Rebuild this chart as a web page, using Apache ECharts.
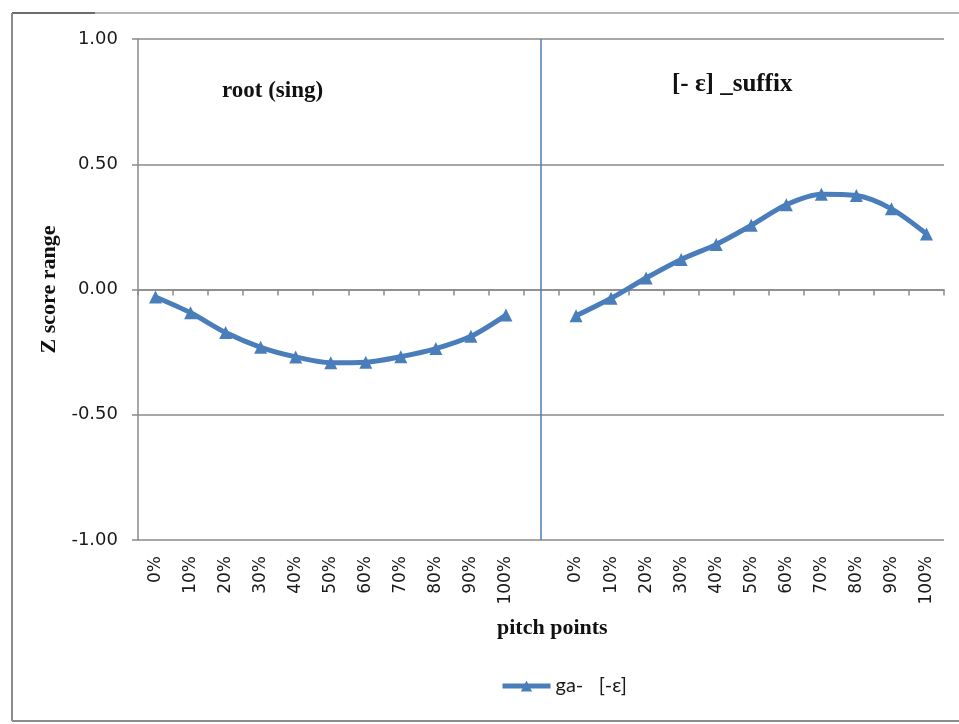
<!DOCTYPE html>
<html>
<head>
<meta charset="utf-8">
<script src="https://cdn.jsdelivr.net/npm/echarts@6/dist/echarts.min.js"></script>
<style>
  html, body { margin: 0; padding: 0; background: #ffffff; }
  #chart { width: 959px; height: 724px; }
</style>
</head>
<body>
<div id="chart"></div>
<script>
// Pitch-point categories: root (sing) 0..100%, a spacer, then the suffix 0..100%
const rootPoints = ['0%', '10%', '20%', '30%', '40%', '50%', '60%', '70%', '80%', '90%', '100%'];
const suffixPoints = ['0%', '10%', '20%', '30%', '40%', '50%', '60%', '70%', '80%', '90%', '100%'];

// Z-score contour for "ga- [-ɛ]"
const rootValues = [-0.03, -0.093, -0.172, -0.231, -0.269, -0.292, -0.290, -0.268, -0.236, -0.187, -0.102];
const suffixValues = [-0.105, -0.035, 0.046, 0.120, 0.180, 0.256, 0.338, 0.380, 0.375, 0.322, 0.222];

const yTicks = { min: -1, max: 1, interval: 0.5 };
const seriesName = 'ga-   [-ɛ]';
const rootLabel = 'root (sing)';
const suffixLabel = '[- ɛ] _suffix';

// Full category list with an empty slot separating the two segments
const categories = rootPoints.concat([''], suffixPoints);
const values = rootValues.concat([null], suffixValues);
const splitIndex = rootPoints.length;

const blue = '#4a7ebb';
const grey = '#8a8a8a';

const chart = echarts.init(document.getElementById('chart'), null, { renderer: 'canvas' });

chart.setOption({
  backgroundColor: '#ffffff',
  animation: false,
  grid: { left: 138, right: 15, top: 39, bottom: 184, containLabel: false },
  xAxis: [
    {
      type: 'category',
      data: categories,
      position: 'bottom',
      boundaryGap: true,
      axisLine: { show: false, onZero: false },
      axisTick: { show: false },
      axisLabel: {
        rotate: 90,
        margin: 16,
        interval: 0,
        fontFamily: 'DejaVu Sans',
        fontSize: 17,
        color: '#1a1a1a'
      },
      splitLine: { show: false }
    },
    {
      // zero line with its tick marks
      type: 'category',
      data: categories,
      position: 'bottom',
      boundaryGap: true,
      axisLine: { show: true, onZero: true, lineStyle: { color: grey, width: 1.5 } },
      axisTick: { show: true, inside: false, length: 6, interval: 0, lineStyle: { color: grey, width: 1.5 } },
      axisLabel: { show: false },
      splitLine: { show: false }
    }
  ],
  yAxis: {
    type: 'value',
    min: yTicks.min,
    max: yTicks.max,
    interval: yTicks.interval,
    name: 'Z score range',
    nameLocation: 'middle',
    nameRotate: 90,
    nameGap: 76,
    nameTextStyle: {
      fontFamily: 'Liberation Serif',
      fontWeight: 'bold',
      fontSize: 22,
      color: '#111111'
    },
    axisLine: { show: true, lineStyle: { color: grey, width: 1.5 } },
    axisTick: { show: true, inside: false, length: 6, lineStyle: { color: grey, width: 1.5 } },
    axisLabel: {
      margin: 20,
      formatter: v => v.toFixed(2),
      fontFamily: 'DejaVu Sans',
      fontSize: 18,
      color: '#1a1a1a'
    },
    splitLine: { show: true, lineStyle: { color: grey, width: 1.5 } }
  },
  legend: {
    left: 500,
    top: 676,
    padding: 0,
    itemWidth: 48,
    itemHeight: 14,
    itemGap: 10,
    textStyle: { fontFamily: 'Lato', fontSize: 20, color: '#1a1a1a' },
    data: [{
      name: seriesName,
      lineStyle: { color: blue, width: 5 },
      itemStyle: { color: blue }
    }]
  },
  series: [
    {
      name: seriesName,
      type: 'line',
      xAxisIndex: 0,
      data: values,
      connectNulls: false,
      smooth: 0.3,
      symbol: 'triangle',
      symbolSize: 13,
      itemStyle: { color: blue },
      lineStyle: { color: blue, width: 5 },
      markLine: {
        silent: true,
        symbol: 'none',
        label: { show: false },
        lineStyle: { color: blue, width: 1.5, type: 'solid' },
        data: [{ xAxis: splitIndex }]
      },
      z: 3
    }
  ],
  graphic: [
    {
      type: 'text', left: 222, top: 80,
      style: { text: rootLabel, fontFamily: 'Liberation Serif', fontWeight: 'bold', fontSize: 23, fill: '#111111' }
    },
    {
      type: 'text', left: 672, top: 72,
      style: { text: suffixLabel, fontFamily: 'Liberation Serif', fontWeight: 'bold', fontSize: 25, fill: '#111111' }
    },
    {
      type: 'text', left: 497, top: 617,
      style: { text: 'pitch points', fontFamily: 'Liberation Serif', fontWeight: 'bold', fontSize: 22, fill: '#111111' }
    },
    // chart-area frame
    { type: 'line', shape: { x1: 12, y1: 13, x2: 959, y2: 13 }, style: { stroke: '#b4b4b4', lineWidth: 2 } },
    { type: 'line', shape: { x1: 12, y1: 13, x2: 95, y2: 13 }, style: { stroke: '#555555', lineWidth: 1.5 } },
    { type: 'line', shape: { x1: 12, y1: 13, x2: 12, y2: 721 }, style: { stroke: '#8c8c8c', lineWidth: 2 } },
    { type: 'line', shape: { x1: 12, y1: 721, x2: 959, y2: 721 }, style: { stroke: '#8c8c8c', lineWidth: 2 } }
  ]
});
</script>
</body>
</html>
